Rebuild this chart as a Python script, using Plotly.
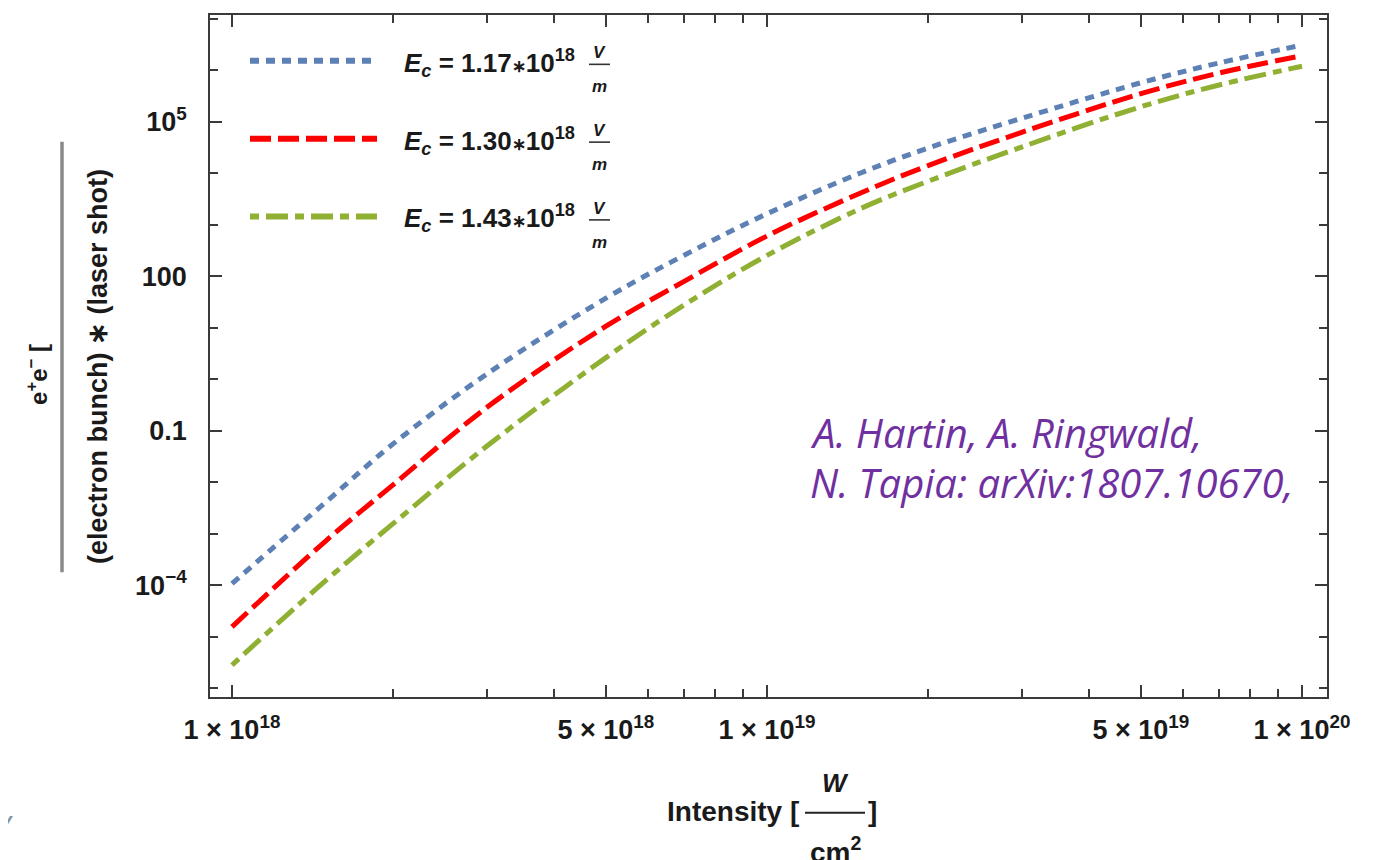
import plotly.graph_objects as go

# ---------------- data ----------------
intensity = [1e18, 1.5e18, 2e18, 3e18, 5e18, 7e18, 1e19, 1.5e19, 2e19, 3e19, 5e19, 7e19, 1e20]
rate_ec117 = [1.08e-4, 4.19e-3, 5.55e-2, 1.28, 37.5, 255.0, 1.63e3, 1.02e4, 3.07e4, 1.17e5, 5.7e5, 1.38e6, 3.05e6]
rate_ec130 = [1.56e-5, 7.4e-4, 8.9e-3, 0.288, 10.7, 79.4, 603.0, 4.17e3, 1.40e4, 6.25e4, 3.5e5, 8.8e5, 1.9e6]
rate_ec143 = [2.83e-6, 1.26e-4, 1.57e-3, 0.051, 2.63, 27.7, 253.0, 2.08e3, 6.97e3, 3.25e4, 1.95e5, 5.15e5, 1.19e6]

series_values = [rate_ec117, rate_ec130, rate_ec143]
series_labels = ["1.17", "1.30", "1.43"]
series_colors = ["#5E81B5", "#FF0000", "#8FB032"]
series_dashes = ["9px,7px", "21px,7px", "9px,7px,22px,7px"]

x_major_vals = [1e18, 5e18, 1e19, 5e19, 1e20]
x_major_text = ["1 × 10<sup>18</sup>", "5 × 10<sup>18</sup>", "1 × 10<sup>19</sup>",
                "5 × 10<sup>19</sup>", "1 × 10<sup>20</sup>"]
x_minor_vals = [2e18, 3e18, 4e18, 6e18, 7e18, 8e18, 9e18,
                2e19, 3e19, 4e19, 6e19, 7e19, 8e19, 9e19]
y_major_vals = [1e-4, 1e-1, 1e2, 1e5]
y_major_text = ["10<sup>−4</sup>", "0.1", "100", "10<sup>5</sup>"]
y_minor_vals = [1e-6, 1e-5, 1e-3, 1e-2, 1, 10, 1e3, 1e4, 1e6, 1e7]

credit_lines = ["A. Hartin, A. Ringwald,", "N. Tapia: arXiv:1807.10670,"]

# ---------------- layout geometry (pixels of the reference) ----------------
W, H = 1380, 860
L, R, T, B = 210, 1327, 13, 697
OFF = 8  # the page body adds an 8px margin; shift the drawing back


def px(x):
    return (x - L) / (R - L)


def py(y):
    return (B - y) / (B - T)


FONT = "Liberation Sans, Arial, sans-serif"
INK = "#1a1a1a"
FRAME = "#3a3a3a"

fig = go.Figure()
for vals, lab, col, dash in zip(series_values, series_labels, series_colors, series_dashes):
    fig.add_trace(go.Scatter(
        x=intensity, y=vals, mode="lines", name=lab,
        line=dict(color=col, width=5, dash=dash, shape="spline", smoothing=1.0),
        showlegend=False, hoverinfo="skip"))

axis_common = dict(
    type="log", showgrid=False, zeroline=False, showline=True, linecolor=FRAME,
    linewidth=1.8, mirror="ticks", ticks="inside", tickcolor=FRAME, tickwidth=1.5,
    ticklen=12, tickmode="array",
    tickfont=dict(family=FONT, size=27, color=INK, weight="bold"),
)

fig.update_xaxes(
    **axis_common, range=[17.9589, 20.0467],
    tickvals=x_major_vals, ticktext=x_major_text, ticklabelstandoff=8,
    minor=dict(tickmode="array", tickvals=x_minor_vals, ticks="inside",
               ticklen=8, tickcolor=FRAME, tickwidth=1.5),
)
fig.update_yaxes(
    **axis_common, range=[-6.168, 7.07],
    tickvals=y_major_vals, ticktext=y_major_text, ticklabelstandoff=16,
    minor=dict(tickmode="array", tickvals=y_minor_vals, ticks="inside",
               ticklen=8, tickcolor=FRAME, tickwidth=1.5),
)

annotations = []
shapes = []

# ---- legend (manual) ----
row_y = [59, 137, 215]
for ry, lab, col, dash in zip(row_y, series_labels, series_colors, series_dashes):
    shapes.append(dict(type="line", xref="paper", yref="paper",
                       x0=px(250), x1=px(377), y0=py(ry), y1=py(ry),
                       line=dict(color=col, width=6, dash=dash)))
    annotations.append(dict(
        xref="paper", yref="paper", x=px(402), y=py(ry + 2), xanchor="left", yanchor="middle",
        text=(f"<b><i>E</i><sub><i>c</i></sub> = {lab}"
              f"<span style='font-size:17px'>∗</span>10<sup>18</sup></b>"),
        showarrow=False, font=dict(family=FONT, size=26, color=INK)))
    annotations.append(dict(
        xref="paper", yref="paper", x=px(599), y=py(ry - 8), xanchor="center", yanchor="middle",
        text="<b><i>V</i></b>", showarrow=False, font=dict(family=FONT, size=17, color=INK)))
    shapes.append(dict(type="line", xref="paper", yref="paper",
                       x0=px(589), x1=px(610), y0=py(ry + 3.5), y1=py(ry + 3.5),
                       line=dict(color="#333333", width=1.6)))
    annotations.append(dict(
        xref="paper", yref="paper", x=px(599), y=py(ry + 26), xanchor="center", yanchor="middle",
        text="<b><i>m</i></b>", showarrow=False, font=dict(family=FONT, size=17, color=INK)))

# ---- credit text ----
for i, line in enumerate(credit_lines):
    annotations.append(dict(
        xref="paper", yref="paper", x=px(808), y=py(432 + 50 * i), xanchor="left", yanchor="middle",
        text=f"<i>{line}</i>", showarrow=False,
        font=dict(family="Open Sans, sans-serif", size=40, color="#7030A0")))

# ---- x-axis title ----
annotations.append(dict(
    xref="paper", yref="paper", x=px(801), y=py(812), xanchor="right", yanchor="middle",
    text="<b>Intensity [</b>", showarrow=False, font=dict(family=FONT, size=28, color=INK)))
shapes.append(dict(type="line", xref="paper", yref="paper", x0=px(805), x1=px(865),
                   y0=py(813), y1=py(813), line=dict(color="#222222", width=2)))
annotations.append(dict(
    xref="paper", yref="paper", x=px(866), y=py(812), xanchor="left", yanchor="middle",
    text="<b>]</b>", showarrow=False, font=dict(family=FONT, size=28, color=INK)))
annotations.append(dict(
    xref="paper", yref="paper", x=px(835), y=py(783), xanchor="center", yanchor="middle",
    text="<b><i>W</i></b>", showarrow=False, font=dict(family=FONT, size=26, color=INK)))
annotations.append(dict(
    xref="paper", yref="paper", x=px(835), y=py(850), xanchor="center", yanchor="middle",
    text="<b>cm<sup>2</sup></b>", showarrow=False, font=dict(family=FONT, size=28, color=INK)))

# ---- y-axis title (fraction, rotated) ----
annotations.append(dict(
    xref="paper", yref="paper", x=px(98), y=py(366), xanchor="center", yanchor="middle",
    textangle=-90, text="<b>(electron bunch) ∗ (laser shot)</b>", showarrow=False,
    font=dict(family=FONT, size=27, color=INK)))
shapes.append(dict(type="line", xref="paper", yref="paper", x0=px(62), x1=px(62),
                   y0=py(140), y1=py(572), line=dict(color="#8a8a8a", width=3.5)))
annotations.append(dict(
    xref="paper", yref="paper", x=px(37), y=py(374), xanchor="center", yanchor="middle",
    textangle=-90, text="<b>e<sup>+</sup>e<sup>−</sup> [</b>", showarrow=False,
    font=dict(family=FONT, size=24, color=INK)))

# ---- cropped slide remnant at bottom-left ----
annotations.append(dict(
    xref="paper", yref="paper", x=px(2), y=py(826), xanchor="center", yanchor="middle",
    text="<i>V</i>", showarrow=False, font=dict(family=FONT, size=28, color="#8391a8")))

fig.update_layout(
    width=W, height=H, autosize=False,
    margin=dict(l=L - OFF, r=W - R + OFF, t=T - OFF, b=H - B + OFF, pad=0),
    paper_bgcolor="white", plot_bgcolor="white",
    annotations=annotations, shapes=shapes, showlegend=False,
)

fig.write_html("out.html", config={"displayModeBar": False})
